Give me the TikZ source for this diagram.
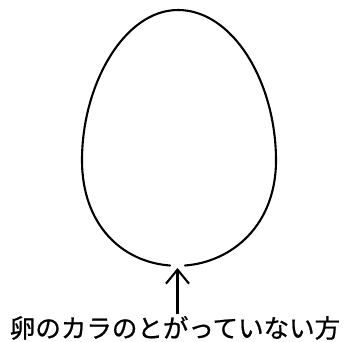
\documentclass[tikz,border=0pt]{standalone}
\usepackage{fontspec}
\newfontfamily\jpfont[FakeBold=0.8]{Noto Sans CJK JP}
\usetikzlibrary{arrows.meta}
\begin{document}
\begin{tikzpicture}[x=1pt,y=-1pt,
  shell/.style={line width=2.1pt, line cap=round},
  pointer/.style={line width=2.1pt, -{Straight Barb[length=14pt,width=23pt,line width=2.1pt]}},
  caption/.style={font=\jpfont\fontsize{25.5}{25.5}\selectfont, inner sep=0pt}]
\useasboundingbox (0,0) rectangle (348,342);
% egg outline (open at the bottom where the arrow points)
\draw[shell] (185,265.5)
  .. controls (232,262) and (277,225) .. (276,158)
  .. controls (275,80) and (232,10) .. (178,10)
  .. controls (124,10) and (82,85) .. (82,160)
  .. controls (82,225) and (122,262) .. (170,265.5);
\coordinate (bottom) at (177.5,268);
\node[caption, anchor=south] (label) at (175,340) {卵のカラのとがっていない方};
\draw[pointer] ([yshift=2pt]label.north -| bottom) -- (bottom);
\end{tikzpicture}
\end{document}
